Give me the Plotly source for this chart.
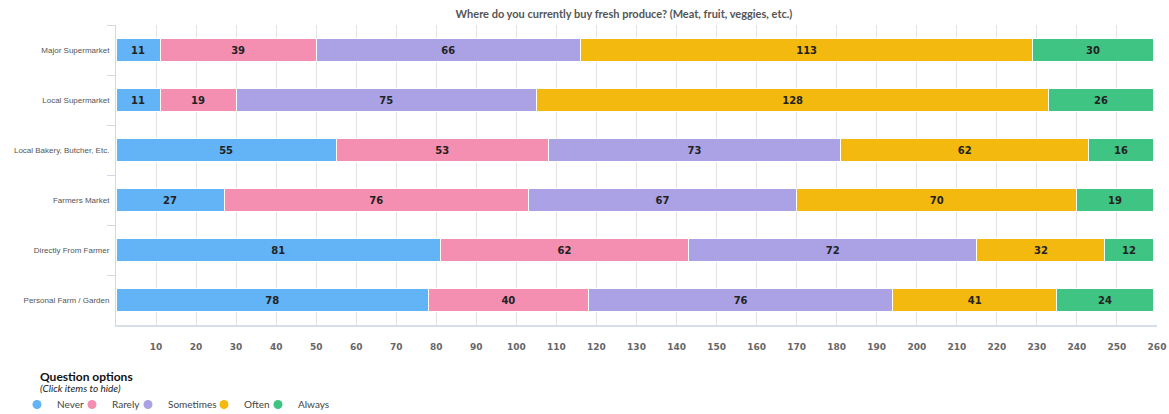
import plotly.graph_objects as go

categories = ["Major Supermarket", "Local Supermarket", "Local Bakery, Butcher, Etc.",
              "Farmers Market", "Directly From Farmer", "Personal Farm / Garden"]
series_names = ["Never", "Rarely", "Sometimes", "Often", "Always"]
never = [11, 11, 55, 27, 81, 78]
rarely = [39, 19, 53, 76, 62, 40]
sometimes = [66, 75, 73, 67, 72, 76]
often = [113, 128, 62, 70, 32, 41]
always = [30, 26, 16, 19, 12, 24]
colors = ["#63b4f6", "#f48fb1", "#aba2e6", "#f3b90f", "#3fc483"]
tick_vals = list(range(10, 261, 10))

W, H = 1169, 414
L, R, T, B = 116, 12, 25, 89
pw = W - L - R
ph = H - T - B
legend_px = [17, 72, 128, 204, 258]  # left edge of each legend entry, in pixels

fig = go.Figure()
legend_ids = ["legend", "legend2", "legend3", "legend4", "legend5"]
for name, vals, col, lid in zip(series_names, [never, rarely, sometimes, often, always], colors, legend_ids):
    fig.add_trace(go.Bar(
        y=categories, x=vals, orientation="h", name=name, legendgroup=name,
        marker=dict(color=col, line=dict(color="white", width=1)),
        text=[str(v) for v in vals], textposition="inside", insidetextanchor="middle",
        textfont=dict(family="DejaVu Sans", size=10, color="#222222", weight="bold"),
        textangle=0, constraintext="none",
        width=0.46, showlegend=False, hoverinfo="x+name", legend=lid))
    fig.add_trace(go.Scatter(
        x=[None], y=[None], mode="markers", name=name, legendgroup=name,
        marker=dict(color=col, size=9, symbol="circle"), showlegend=True, legend=lid))

legend_common = dict(orientation="h", xanchor="left", y=(T + ph - 390) / ph, yanchor="top",
                     font=dict(family="Lato, DejaVu Sans", size=10, color="#444444"),
                     itemwidth=30, tracegroupgap=0, bgcolor="rgba(0,0,0,0)")
legends = {lid: dict(x=(px - L) / pw, **legend_common) for lid, px in zip(legend_ids, legend_px)}

fig.update_layout(
    width=W, height=H, barmode="stack", bargap=0.54,
    margin=dict(l=L, r=R, t=T, b=B, autoexpand=False),
    plot_bgcolor="white", paper_bgcolor="white",
    title=dict(text="<b>Where do you currently buy fresh produce? (Meat, fruit, veggies, etc.)</b>",
               x=624 / W, xanchor="center", y=1 - 14 / H, yanchor="middle",
               font=dict(family="Lato, DejaVu Sans", size=11, color="#555555")),
    xaxis=dict(range=[0, 260], tickvals=tick_vals, showgrid=True, gridcolor="#e3e3e3",
               gridwidth=1, zeroline=False, showline=True, linecolor="#d6dee8", linewidth=2,
               ticks="", tickfont=dict(family="DejaVu Sans", size=9, color="#666666", weight="bold"),
               ticklabelstandoff=12, fixedrange=True, automargin=False),
    yaxis=dict(autorange="reversed", showline=True, linecolor="#ccdbeb", linewidth=1,
               ticks="outside", tickson="boundaries", ticklen=8, tickcolor="#ccdbeb",
               tickfont=dict(family="Liberation Sans, Arial", size=8, color="#555555"),
               ticklabelstandoff=4,
               showgrid=False, fixedrange=True, automargin=False),
    showlegend=True,
    annotations=[
        dict(text="<b>Question options</b>", xref="paper", yref="paper",
             x=(38 - L) / pw, y=(T + ph - 376) / ph, xanchor="left", yanchor="middle",
             showarrow=False, font=dict(family="Lato, DejaVu Sans", size=12, color="#111111")),
        dict(text="<i>(Click items to hide)</i>", xref="paper", yref="paper",
             x=(38 - L) / pw, y=(T + ph - 388) / ph, xanchor="left", yanchor="middle",
             showarrow=False, font=dict(family="Lato, DejaVu Sans", size=10, color="#222222")),
    ],
    **legends,
)

fig.write_html("out.html", config={"displayModeBar": False},
               post_script="document.body.style.margin='0';document.body.style.overflow='hidden';")
